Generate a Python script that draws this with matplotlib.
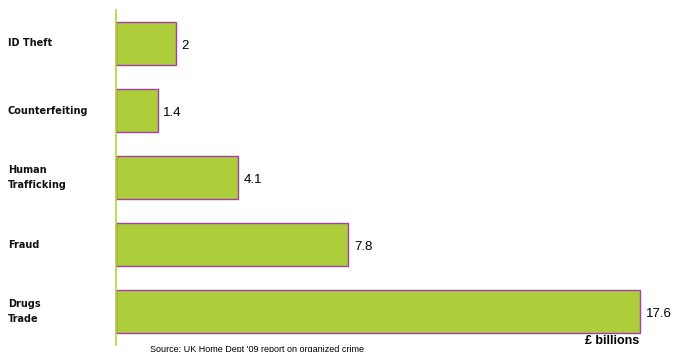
import matplotlib.pyplot as plt
from matplotlib.transforms import blended_transform_factory

categories = ["ID Theft", "Counterfeiting", "Human\nTrafficking", "Fraud", "Drugs\nTrade"]
values = [2, 1.4, 4.1, 7.8, 17.6]

plt.rcParams['font.family'] = ['Liberation Sans', 'DejaVu Sans']

fig = plt.figure(figsize=(6.76, 3.52), dpi=100)
ax = fig.add_axes([116 / 676, 7 / 352, 560 / 676, 335 / 352])

y = list(range(len(categories)))
ax.barh(y, values, height=0.63, color="#adcd3b", edgecolor="#a040a8", linewidth=1.0)
ax.set_ylim(len(categories) - 0.5, -0.5)
ax.set_xlim(0, 560 / 29.8)

for yi, v in zip(y, values):
    ax.annotate(f"{v:g}", (v, yi), xytext=(4, -2), textcoords="offset points",
                va="center", ha="left", fontsize=9.5)

# category names sit in the left margin; the wider DejaVu face mimics the spaced-out lettering
lab_tr = blended_transform_factory(fig.transFigure, ax.transData)
for yi, lab in zip(y, categories):
    ax.text(8 / 676, yi, lab, transform=lab_tr, fontsize=7, fontweight="bold",
            family="DejaVu Sans", color="#111111", va="center", ha="left", linespacing=1.6)

for side in ["top", "right", "bottom"]:
    ax.spines[side].set_visible(False)
ax.spines["left"].set_color("#b5d33a")
ax.spines["left"].set_linewidth(1.2)
ax.set_xticks([])
ax.set_yticks([])

fig.text(585 / 676, 1 - 341 / 352, "£ billions", fontsize=9, fontweight="bold", va="center", ha="left")
fig.text(150 / 676, 1 - 349 / 352, "Source: UK Home Dept '09 report on organized crime",
         fontsize=6.5, va="center", ha="left")
# title is cut off by the top edge in the original
fig.text(0.64, 1 + 3 / 352, "Organized crime types by yearly cost", fontsize=11,
         fontweight="bold", style="italic", ha="center", va="baseline")

fig.savefig("out.png", dpi=100)
